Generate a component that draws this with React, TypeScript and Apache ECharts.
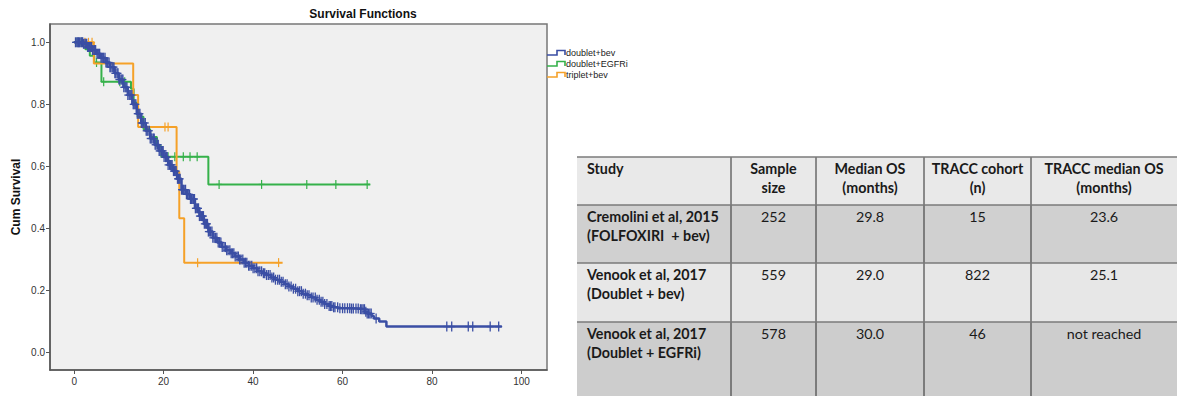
import React, { useEffect, useRef } from "react";
import * as echarts from "echarts";

// ---- Kaplan-Meier data (months, cumulative survival) ----
const xTicks = [0, 20, 40, 60, 80, 100];
const yTicks = [0, 0.2, 0.4, 0.6, 0.8, 1.0];

const bevTimes = [0, 1, 2, 3, 4, 5, 6, 7, 8, 9, 10, 11, 12, 13, 14, 15, 16, 17, 18, 19, 20, 21, 22, 23, 24, 25, 26, 27, 28, 29, 30, 31, 32, 33, 34, 35, 36, 37, 38, 39, 40, 41, 42, 43, 44, 45, 46, 47, 48, 49, 50, 51, 52, 53, 54, 55, 56, 57, 58, 59, 60, 62, 64, 65, 65.5, 66.5, 67, 68.2, 69.8, 95.6];
const bevSurv = [1.0, 1.0, 0.995, 0.985, 0.975, 0.963, 0.95, 0.935, 0.92, 0.9, 0.88, 0.855, 0.83, 0.8, 0.77, 0.74, 0.715, 0.69, 0.67, 0.65, 0.63, 0.605, 0.585, 0.56, 0.525, 0.51, 0.495, 0.465, 0.44, 0.415, 0.39, 0.37, 0.355, 0.34, 0.33, 0.32, 0.31, 0.3, 0.29, 0.28, 0.272, 0.262, 0.256, 0.25, 0.242, 0.235, 0.228, 0.22, 0.213, 0.206, 0.198, 0.19, 0.185, 0.178, 0.17, 0.164, 0.157, 0.15, 0.146, 0.143, 0.143, 0.142, 0.14, 0.132, 0.126, 0.118, 0.11, 0.1, 0.084, 0.084];
const bevCensor = [0.3, 0.6, 0.8, 1.0, 1.2, 1.5, 1.7, 1.9, 2.1, 2.4, 2.6, 2.8, 3.0, 3.2, 3.4, 3.7, 3.9, 4.1, 4.4, 4.6, 4.8, 5.1, 5.3, 5.5, 5.7, 6.0, 6.2, 6.4, 6.6, 6.9, 7.1, 7.3, 7.5, 7.8, 8.0, 8.2, 8.5, 8.7, 8.9, 9.1, 9.3, 9.6, 9.8, 10.0, 10.2, 10.5, 10.7, 10.9, 11.1, 11.4, 11.6, 11.8, 12.0, 12.3, 12.5, 12.7, 12.9, 13.2, 13.4, 13.6, 13.8, 14.1, 14.3, 14.5, 14.7, 15.0, 15.2, 15.4, 15.6, 15.9, 16.1, 16.3, 16.5, 16.8, 17.0, 17.2, 17.4, 17.7, 17.9, 18.1, 18.3, 18.6, 18.8, 19.0, 19.2, 19.5, 19.7, 19.9, 20.1, 20.4, 20.6, 20.8, 21.0, 21.3, 21.5, 21.7, 21.9, 22.2, 22.4, 22.6, 22.8, 23.1, 23.3, 23.5, 23.7, 24.0, 24.2, 24.4, 24.6, 24.9, 25.1, 25.3, 25.5, 25.8, 26.0, 26.2, 26.4, 26.7, 26.9, 27.1, 27.3, 27.6, 27.8, 28.0, 28.2, 28.5, 28.7, 28.9, 29.1, 29.4, 29.6, 29.8, 30.0, 30.3, 30.5, 30.8, 31.0, 31.3, 31.6, 31.9, 32.2, 32.5, 32.8, 33.1, 33.5, 33.8, 34.1, 34.4, 34.8, 35.1, 35.4, 35.7, 36.0, 36.4, 36.7, 37.0, 37.3, 37.7, 38.0, 38.3, 38.6, 39.0, 39.3, 39.7, 40.0, 40.4, 40.8, 41.1, 41.5, 41.9, 42.3, 42.6, 43.0, 43.4, 43.8, 44.2, 44.6, 45.0, 45.5, 45.9, 46.3, 46.7, 47.2, 47.6, 48.0, 48.5, 49.0, 49.5, 50.0, 50.4, 50.8, 51.2, 51.7, 52.1, 52.5, 53.0, 53.4, 53.9, 54.3, 54.8, 55.2, 55.6, 56.0, 56.5, 57.0, 57.3, 57.6, 58.0, 58.3, 58.9, 59.4, 60.0, 60.5, 61.1, 61.6, 62.0, 62.4, 63.0, 63.5, 64.0, 64.3, 64.6, 64.9, 65.2, 65.5, 65.8, 66.1, 66.4, 67.5, 83.3, 84.4, 88.1, 89.1, 93.0, 94.9];

const egfrTimes = [0, 2.5, 3.5, 4.5, 6.1, 12.7, 13.3, 14.2, 15.5, 17.0, 18.5, 19.5, 30.0, 66.2];
const egfrSurv = [1.0, 0.978, 0.957, 0.935, 0.873, 0.85, 0.805, 0.76, 0.72, 0.695, 0.665, 0.631, 0.542, 0.542];
const egfrCensor = [0.4, 1.0, 1.6, 5.0, 6.6, 10.2, 11.3, 21.0, 22.5, 24.4, 25.9, 27.5, 32.4, 41.9, 52.0, 58.5, 65.5];

const tripTimes = [0, 4.4, 13.2, 14.3, 22.9, 23.5, 24.6, 46.6];
const tripSurv = [1.0, 0.932, 0.83, 0.727, 0.583, 0.433, 0.29, 0.29];
const tripCensor = [2.4, 3.2, 4.0, 20.3, 21.0, 27.6, 45.7];

const groupNames = ["doublet+bev", "doublet+EGFRi", "triplet+bev"];
const groupColors = ["#3a4ea4", "#35b14a", "#f5a128"];

// ---- Table data ----
const tableHeaders = [["Study", ""], ["Sample", "size"], ["Median OS", "(months)"], ["TRACC cohort", "(n)"], ["TRACC median OS", "(months)"]];
const studyNames = [["Cremolini et al, 2015", "(FOLFOXIRI  + bev)"], ["Venook et al, 2017", "(Doublet + bev)"], ["Venook et al, 2017", "(Doublet + EGFRi)"]];
const sampleSizes = ["252", "559", "578"];
const medianOS = ["29.8", "29.0", "30.0"];
const traccCohort = ["15", "822", "46"];
const traccMedianOS = ["23.6", "25.1", "not reached"];

function survAt(times: number[], surv: number[], t: number) {
  let s = surv[0];
  for (let i = 0; i < times.length; i++) if (times[i] <= t) s = surv[i];
  return s;
}

function censorSeries(name: string, color: string, times: number[], surv: number[], censor: number[], z: number, h: number, w: number, lw: number) {
  return {
    type: "custom",
    name,
    z,
    silent: true,
    data: censor.map((t) => [t, survAt(times, surv, t)]),
    encode: { x: 0, y: 1 },
    renderItem: (params: any, api: any) => {
      const p = api.coord([api.value(0), api.value(1)]);
      const st = { stroke: color, lineWidth: lw };
      return {
        type: "group",
        children: [
          { type: "line", shape: { x1: p[0], y1: p[1] - h, x2: p[0], y2: p[1] + h }, style: st },
          { type: "line", shape: { x1: p[0] - w, y1: p[1], x2: p[0] + w, y2: p[1] }, style: st },
        ],
      };
    },
  };
}

function lineSeries(name: string, color: string, times: number[], surv: number[], z: number, width: number) {
  return {
    type: "line",
    name,
    z,
    step: "end",
    showSymbol: false,
    silent: true,
    data: times.map((t, i) => [t, surv[i]]),
    lineStyle: { color, width },
  };
}

export default function App() {
  const ref = useRef<HTMLDivElement>(null);
  useEffect(() => {
    if (!ref.current) return;
    const chart = echarts.init(ref.current, null, { renderer: "svg" });

    const graphics: any[] = [];
    graphics.push({
      type: "text", x: 363, y: 14,
      style: { text: "Survival Functions", font: "bold 12px 'Liberation Sans', Arial, sans-serif", fill: "#111", textAlign: "center", textVerticalAlign: "middle", align: "center", verticalAlign: "middle" },
    });
    graphics.push({
      type: "text", x: 16, y: 197, rotation: Math.PI / 2,
      style: { text: "Cum Survival", font: "bold 12px 'Liberation Sans', Arial, sans-serif", fill: "#111", textAlign: "center", textVerticalAlign: "middle", align: "center", verticalAlign: "middle" },
    });
    const legY = [53, 64, 75];
    groupNames.forEach((n, i) => {
      const y = legY[i];
      graphics.push({
        type: "polyline",
        shape: { points: [[547, y + 2], [557, y + 2], [557, y - 2.5], [565, y - 2.5], [565, y + 2]] },
        style: { stroke: groupColors[i], lineWidth: 1.6, fill: "none" },
      });
      graphics.push({
        type: "text", x: 566, y,
        style: { text: n, font: "9px 'Liberation Sans', Arial, sans-serif", fill: "#222", textAlign: "left", textVerticalAlign: "middle", align: "left", verticalAlign: "middle" },
      });
    });

    // table
    const colX = [577, 731, 816, 924, 1031, 1177];
    const rowY = [157, 205, 263, 322, 396];
    const rowFill = ["#e9e9e9", "#d0d0d0", "#e7e7e7", "#cdcdcd"];
    for (let r = 0; r < 4; r++) {
      graphics.push({ type: "rect", shape: { x: colX[0], y: rowY[r], width: colX[5] - colX[0], height: rowY[r + 1] - rowY[r] }, style: { fill: rowFill[r] } });
    }
    for (let c = 1; c < 5; c++) {
      graphics.push({ type: "line", shape: { x1: colX[c], y1: rowY[0], x2: colX[c], y2: rowY[4] }, style: { stroke: "#2a2a2a", lineWidth: 1 } });
    }
    for (let r = 0; r < 4; r++) {
      graphics.push({ type: "line", shape: { x1: colX[0], y1: rowY[r], x2: colX[5], y2: rowY[r] }, style: { stroke: "#7a7a7a", lineWidth: 1.6 } });
    }
    const tFont = (bold: boolean) => (bold ? "bold " : "") + "14.3px Lato, 'Open Sans', sans-serif";
    const addCell = (c: number, r: number, lines: string[], bold: boolean) => {
      const left = c === 0;
      lines.forEach((ln, k) => {
        if (!ln) return;
        graphics.push({
          type: "text",
          x: left ? colX[0] + 10 : (colX[c] + colX[c + 1]) / 2,
          y: rowY[r] + 11.5 + k * 18.5,
          style: { text: ln, font: tFont(bold), fill: "#1a1a1a", textAlign: left ? "left" : "center", textVerticalAlign: "middle", align: left ? "left" : "center", verticalAlign: "middle" },
        });
      });
    };
    tableHeaders.forEach((h, c) => addCell(c, 0, h, true));
    studyNames.forEach((s, r) => {
      addCell(0, r + 1, s, true);
      addCell(1, r + 1, [sampleSizes[r]], false);
      addCell(2, r + 1, [medianOS[r]], false);
      addCell(3, r + 1, [traccCohort[r]], false);
      addCell(4, r + 1, [traccMedianOS[r]], false);
    });

    const axisCommon = {
      type: "value",
      axisLine: { show: true, onZero: false, lineStyle: { color: "#555", width: 1.5 } },
      splitLine: { show: false },
    };

    chart.setOption({
      animation: false,
      backgroundColor: "#ffffff",
      grid: { left: 50, top: 24, width: 497, height: 346, show: true, backgroundColor: "#f0f0f0", borderColor: "#777", borderWidth: 1.5 },
      xAxis: {
        ...axisCommon,
        min: -5.4, max: 105.7,
        axisTick: { show: true, length: 4, customValues: xTicks, lineStyle: { color: "#555" } },
        axisLabel: { customValues: xTicks, fontSize: 10, color: "#333", margin: 6, fontFamily: "'Liberation Sans', Arial, sans-serif" },
      },
      yAxis: {
        ...axisCommon,
        min: -0.056, max: 1.059,
        axisTick: { show: true, length: 4, customValues: yTicks, lineStyle: { color: "#555" } },
        axisLabel: { customValues: yTicks, fontSize: 10, color: "#333", margin: 5, fontFamily: "'Liberation Sans', Arial, sans-serif", formatter: (v: number) => v.toFixed(1) },
      },
      series: [
        lineSeries(groupNames[1], groupColors[1], egfrTimes, egfrSurv, 2, 2),
        censorSeries(groupNames[1], groupColors[1], egfrTimes, egfrSurv, egfrCensor, 2, 4.5, 3, 1.2),
        lineSeries(groupNames[2], groupColors[2], tripTimes, tripSurv, 3, 2),
        censorSeries(groupNames[2], groupColors[2], tripTimes, tripSurv, tripCensor, 3, 4.5, 3, 1.2),
        lineSeries(groupNames[0], groupColors[0], bevTimes, bevSurv, 4, 2.5),
        censorSeries(groupNames[0], groupColors[0], bevTimes, bevSurv, bevCensor, 4, 5, 3.5, 1.3),
      ],
      graphic: { elements: graphics },
    });
    return () => chart.dispose();
  }, []);
  return <div ref={ref} style={{ position: "fixed", left: 0, top: 0, width: 1177, height: 396, background: "#fff" }} />;
}
